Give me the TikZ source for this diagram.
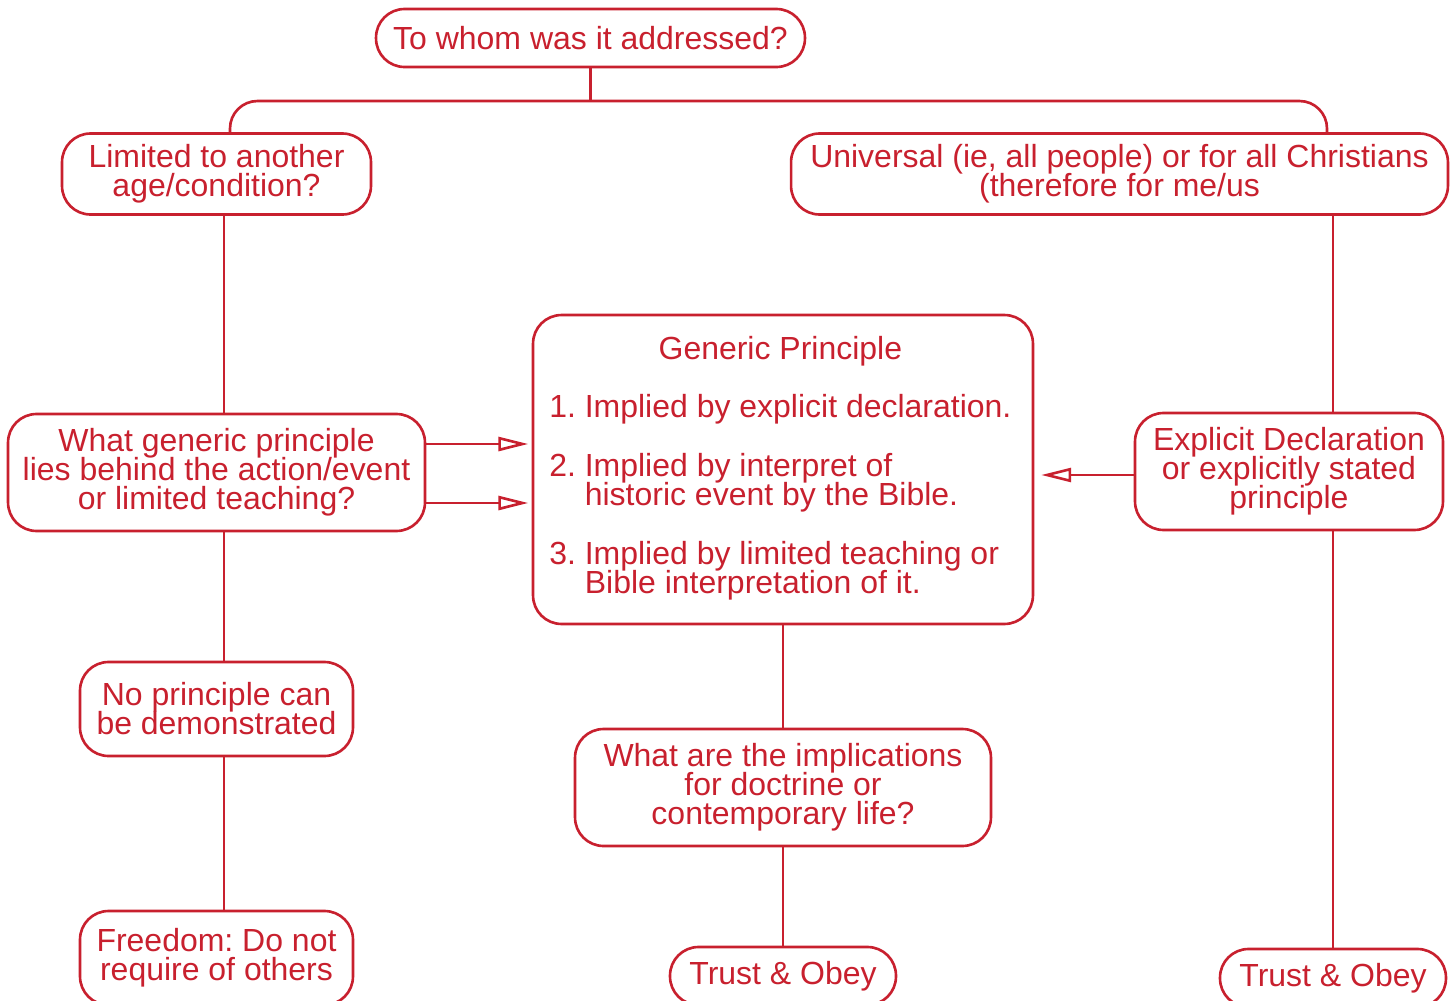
\documentclass[tikz,border=0pt]{standalone}
\usepackage{fontspec}
\setmainfont{Liberation Sans}
\usetikzlibrary{arrows.meta,calc,positioning}
\definecolor{flowred}{RGB}{200,32,46}
\newcommand{\boxfont}{\fontsize{18.2}{16.5}\selectfont\frenchspacing\lineskiplimit=-8pt\relax}

\begin{document}
\begin{tikzpicture}[x=0.02cm,y=-0.02cm,
    every node/.style={font=\boxfont, text=flowred},
    box/.style={draw=flowred, line width=1.5pt, rounded corners=0.57cm, inner sep=0pt, align=center},
    link/.style={draw=flowred, line width=1.5pt},
    arr/.style={link, -{Triangle[open,length=17pt,width=8pt]}}]
    \useasboundingbox (0,0) rectangle (1455,1001);
    % question at the top
    \node[box, minimum width=8.58cm, minimum height=1.16cm] (addressed) at (590.5,38) {To whom was it addressed?};
    \node[box, minimum width=6.18cm, minimum height=1.62cm] (limited) at (216.5,174) {Limited to another\\age/condition?};
    \node[box, minimum width=13.14cm, minimum height=1.62cm] (universal) at (1119.5,174) {Universal (ie, all people) or for all Christians\\(therefore for me/us};
    % middle row
    \node[box, minimum width=8.34cm, minimum height=2.34cm] (whatgen) at (216.5,472.5) {What generic principle\\lies behind the action/event\\or limited teaching?};
    \node[box, minimum width=10cm, minimum height=6.18cm] (generic) at (783,469.5) {%
      \begin{tabular}{@{}l@{\ }l@{}}
        \multicolumn{2}{c}{Generic Principle}\\[15pt]
        1. & Implied by explicit declaration.\\[15pt]
        2. & Implied by interpret of\\[-1.2pt]
           & historic event by the Bible.\\[15pt]
        3. & Implied by limited teaching or\\[-1.2pt]
           & Bible interpretation of it.
      \end{tabular}\hspace*{3pt}};
    \node[box, minimum width=6.16cm, minimum height=2.34cm] (explicit) at (1289,471.5) {Explicit Declaration\\or explicitly stated\\principle};
    % lower rows
    \node[box, minimum width=5.46cm, minimum height=1.88cm] (noprin) at (216.5,709) {No principle can\\be demonstrated};
    \node[box, minimum width=8.32cm, minimum height=2.34cm] (implic) at (783,787.5) {What are the implications\\for doctrine or\\contemporary life?};
    \node[box, minimum width=5.46cm, minimum height=1.88cm] (freedom) at (216.5,958) {Freedom: Do not\\require of others};
    \node[box, minimum width=4.52cm, minimum height=1.16cm] (trustmid) at (783,976) {Trust \& Obey};
    \node[box, minimum width=4.52cm, minimum height=1.16cm] (trustright) at (1333,978) {Trust \& Obey};
    % columns and bus
    \coordinate (lcol) at (224,0);
    \coordinate (rcol) at (1333,0);
    \coordinate (busL) at (230,101);
    \coordinate (busR) at (1327,101);
    \draw[link] (addressed.south) -- (addressed.south |- busL);
    \draw[link, rounded corners=0.55cm] (limited.north -| busL) -- (busL) -- (busR) -- (universal.north -| busR);
    \draw[link] (limited.south -| lcol) -- (whatgen.north -| lcol);
    \draw[link] (whatgen.south -| lcol) -- (noprin.north -| lcol);
    \draw[link] (noprin.south -| lcol) -- (freedom.north -| lcol);
    \draw[link] (universal.south -| rcol) -- (explicit.north -| rcol);
    \draw[link] (explicit.south -| rcol) -- (trustright.north -| rcol);
    \draw[link] (generic.south) -- (implic.north);
    \draw[link] (implic.south) -- (trustmid.north);
    % arrows into the generic principle
    \draw[arr, shorten >=2pt] (whatgen.east |- 0,444) -- (generic.west |- 0,444);
    \draw[arr, shorten >=2pt] (whatgen.east |- 0,503) -- (generic.west |- 0,503);
    \draw[arr, shorten >=4pt] (explicit.west |- 0,475) -- (generic.east |- 0,475);
\end{tikzpicture}
\end{document}
